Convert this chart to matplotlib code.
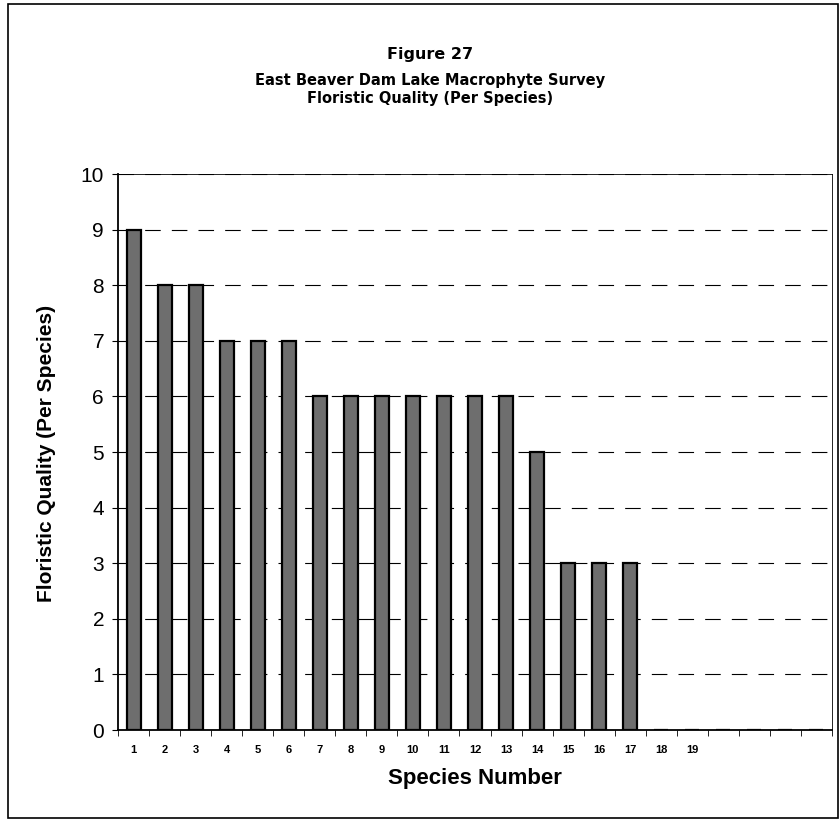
import matplotlib.pyplot as plt
from matplotlib.patches import Rectangle

species = [str(i) for i in range(1, 20)] + ['', '', '', '']
quality = [9, 8, 8, 7, 7, 7, 6, 6, 6, 6, 6, 6, 6, 5, 3, 3, 3, 0, 0, 0, 0, 0, 0]

plt.rcParams['font.family'] = ['Liberation Sans', 'DejaVu Sans']

W, H = 840, 822
fig = plt.figure(figsize=(W / 100, H / 100), dpi=100)
ax = fig.add_axes([118/W, 1 - 730/H, (832-118)/W, (730-174)/H])

x = list(range(len(quality)))
ax.bar(x, quality, width=0.45, color='#6e6e6e', edgecolor='black', linewidth=1.6, zorder=3)

ax.set_xlim(-0.5, len(quality) - 0.5)
ax.set_ylim(0, 10)
ax.set_yticks(range(0, 11))
ax.tick_params(axis='y', labelsize=15, length=4, direction='out', pad=6)
ax.set_xticks(x)
ax.set_xticklabels(species, fontsize=8, fontweight='bold')
ax.set_xticks([i - 0.5 for i in range(len(quality) + 1)], minor=True)
ax.tick_params(axis='x', which='major', length=0, pad=11)
ax.tick_params(axis='x', which='minor', length=4, direction='out')

ax.yaxis.grid(True, color='black', linestyle=(0, (14, 10)), linewidth=0.8)
ax.set_axisbelow(True)
for s in ['top', 'right']:
    ax.spines[s].set_linewidth(0.6)
ax.spines['left'].set_linewidth(1.3)
ax.spines['bottom'].set_linewidth(1.3)

fig.text(47/W, 1 - 453/H, 'Floristic Quality (Per Species)', rotation=90, ha='center', va='center',
         fontsize=15, fontweight='bold')
fig.text(475/W, 1 - 778/H, 'Species Number', ha='center', va='center', fontsize=16, fontweight='bold')

fig.text(430/W, 1 - 55/H, 'Figure 27', ha='center', va='center', fontsize=11.5, fontweight='bold',
         family='DejaVu Sans')
fig.text(430/W, 1 - 81/H, 'East Beaver Dam Lake Macrophyte Survey', ha='center', va='center',
         fontsize=10.5, fontweight='bold', family='DejaVu Sans')
fig.text(430/W, 1 - 99/H, 'Floristic Quality (Per Species)', ha='center', va='center',
         fontsize=10.5, fontweight='bold', family='DejaVu Sans')

# outer chart frame
fig.patches.append(Rectangle((8/W, 4/H), 830/W, 814/H, transform=fig.transFigure,
                             fill=False, edgecolor='black', linewidth=1.2))

fig.savefig('out.png', dpi=100)
